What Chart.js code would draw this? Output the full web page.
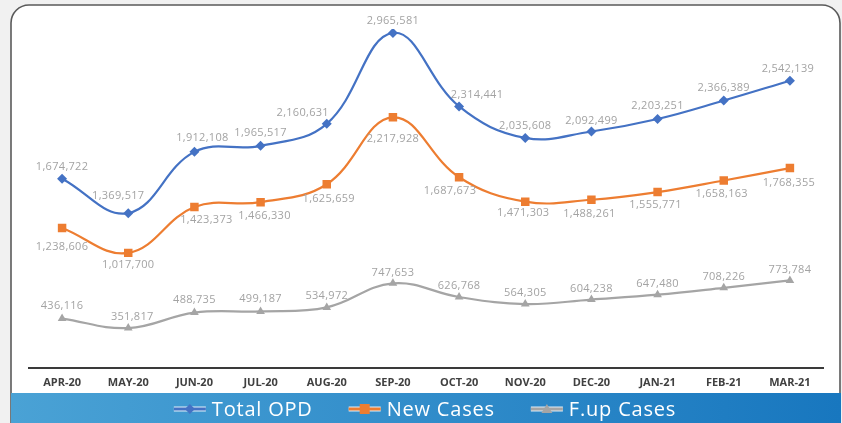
<!DOCTYPE html>
<html>
<head>
<meta charset="utf-8">
<script src="https://cdn.jsdelivr.net/npm/chart.js@4/dist/chart.umd.min.js"></script>
<style>
  html, body { margin: 0; padding: 0; background: #f1f1f1; }
  #wrap { width: 842px; height: 423px; }
</style>
</head>
<body>
<div id="wrap"><canvas id="c" width="842" height="423"></canvas></div>
<script>
const categories = ['APR-20', 'MAY-20', 'JUN-20', 'JUL-20', 'AUG-20', 'SEP-20', 'OCT-20', 'NOV-20', 'DEC-20', 'JAN-21', 'FEB-21', 'MAR-21'];
const totalOPD = [1674722, 1369517, 1912108, 1965517, 2160631, 2965581, 2314441, 2035608, 2092499, 2203251, 2366389, 2542139];
const newCases = [1238606, 1017700, 1423373, 1466330, 1625659, 2217928, 1687673, 1471303, 1488261, 1555771, 1658163, 1768355];
const fupCases = [436116, 351817, 488735, 499187, 534972, 747653, 626768, 564305, 604238, 647480, 708226, 773784];
const seriesNames = ['Total OPD', 'New Cases', 'F.up Cases'];

const COLORS = ['#4472C4', '#ED7D31', '#A5A5A5'];
// value-label placement nudges (pixels, relative to each marker), style only
const LABEL_NUDGE = [
  [[0,-12],[-10,-17],[8,-14],[0,-13],[-24,-11],[0,-12],[18,-12],[0,-12],[0,-11],[0,-13],[0,-13],[-2,-12]],
  [[0,19],[0,12],[12,13],[4,14],[2,15],[0,22],[-9,14],[-2,11],[-2,14],[-2,13],[-2,13],[-1,15]],
  [[0,-13],[4,-11],[0,-13],[0,-13],[0,-12],[0,-11],[0,-11],[0,-11],[0,-11],[0,-11],[0,-11],[0,-11]]
];

const bgPlugin = {
  id: 'bg',
  beforeDraw(chart) {
    const ctx = chart.ctx;
    ctx.save();
    ctx.fillStyle = '#f1f1f1';
    ctx.fillRect(0, 0, 842, 423);
    const x0 = 11, y0 = 5, x1 = 840, y1 = 440, r = 18;
    ctx.beginPath();
    ctx.moveTo(x0 + r, y0);
    ctx.lineTo(x1 - r, y0);
    ctx.arcTo(x1, y0, x1, y0 + r, r);
    ctx.lineTo(x1, y1);
    ctx.lineTo(x0, y1);
    ctx.lineTo(x0, y0 + r);
    ctx.arcTo(x0, y0, x0 + r, y0, r);
    ctx.closePath();
    ctx.fillStyle = '#ffffff';
    ctx.fill();
    ctx.lineWidth = 1.6;
    ctx.strokeStyle = '#5a5a5a';
    ctx.stroke();
    const g = ctx.createLinearGradient(11, 0, 841, 0);
    g.addColorStop(0, '#4aa2d5');
    g.addColorStop(1, '#1877bf');
    ctx.fillStyle = g;
    ctx.fillRect(11, 393, 830, 30);
    ctx.restore();
  }
};

const labelPlugin = {
  id: 'valueLabels',
  afterDatasetsDraw(chart) {
    const ctx = chart.ctx;
    ctx.save();
    ctx.font = '400 11px "Open Sans"';
    ctx.letterSpacing = '0.3px';
    ctx.fillStyle = '#a3a3a3';
    ctx.textAlign = 'center';
    ctx.textBaseline = 'middle';
    chart.data.datasets.forEach((ds, di) => {
      const meta = chart.getDatasetMeta(di);
      meta.data.forEach((pt, i) => {
        const txt = ds.data[i].toLocaleString('en-US');
        const n = LABEL_NUDGE[di][i];
        ctx.fillText(txt, pt.x + n[0], pt.y + n[1]);
      });
    });
    ctx.restore();
  }
};

function drawMarker(ctx, style, x, y, color) {
  ctx.fillStyle = color;
  ctx.beginPath();
  if (style === 'rectRot') {
    ctx.moveTo(x, y - 5); ctx.lineTo(x + 5, y); ctx.lineTo(x, y + 5); ctx.lineTo(x - 5, y);
  } else if (style === 'rect') {
    ctx.rect(x - 5, y - 5, 10, 10);
  } else {
    ctx.moveTo(x, y - 5); ctx.lineTo(x + 5.5, y + 4); ctx.lineTo(x - 5.5, y + 4);
  }
  ctx.closePath();
  ctx.fill();
}

const legendPlugin = {
  id: 'customLegend',
  afterDraw(chart) {
    const ctx = chart.ctx;
    ctx.save();
    ctx.font = '500 20px "Open Sans"';
    ctx.letterSpacing = '0.8px';
    const iconW = 32, gapIcon = 6, gapItem = 36;
    const styles = ['rectRot', 'rect', 'triangle'];
    const widths = seriesNames.map(n => ctx.measureText(n).width);
    const total = widths.reduce((a, b) => a + b, 0) + seriesNames.length * (iconW + gapIcon) + gapItem * (seriesNames.length - 1);
    let x = 425 - total / 2;
    const y = 409;
    seriesNames.forEach((name, i) => {
      ctx.lineCap = 'butt';
      ctx.strokeStyle = 'rgba(255,255,255,0.85)';
      ctx.lineWidth = 5;
      ctx.beginPath(); ctx.moveTo(x, y); ctx.lineTo(x + iconW, y); ctx.stroke();
      ctx.strokeStyle = COLORS[i];
      ctx.lineWidth = 3;
      ctx.beginPath(); ctx.moveTo(x, y); ctx.lineTo(x + iconW, y); ctx.stroke();
      drawMarker(ctx, styles[i], x + iconW / 2, y, COLORS[i]);
      x += iconW + gapIcon;
      ctx.fillStyle = '#ffffff';
      ctx.textBaseline = 'middle';
      ctx.textAlign = 'left';
      ctx.fillText(name, x, y + 1);
      x += widths[i] + gapItem;
    });
    ctx.restore();
  }
};

new Chart(document.getElementById('c'), {
  type: 'line',
  data: {
    labels: categories,
    datasets: [
      { label: seriesNames[0], data: totalOPD, borderColor: COLORS[0], backgroundColor: COLORS[0], borderWidth: 2.2, pointStyle: 'rectRot', pointRadius: 5, pointBorderWidth: 0, tension: 0.4 },
      { label: seriesNames[1], data: newCases, borderColor: COLORS[1], backgroundColor: COLORS[1], borderWidth: 2.2, pointStyle: 'rect', pointRadius: 6, pointBorderWidth: 0, tension: 0.4 },
      { label: seriesNames[2], data: fupCases, borderColor: COLORS[2], backgroundColor: COLORS[2], borderWidth: 2.2, pointStyle: 'triangle', pointRadius: 5, pointBorderWidth: 0, tension: 0.4 }
    ]
  },
  options: {
    responsive: false,
    animation: false,
    devicePixelRatio: 1,
    layout: { padding: { left: 29, right: 19, top: 29, bottom: 26 } },
    scales: {
      x: {
        offset: true,
        grid: { display: false, drawTicks: false },
        border: { display: true, color: '#3a3a3a', width: 2 },
        ticks: { color: '#404040', padding: 8, font: { family: '"Open Sans"', size: 11, weight: 'bold' }, maxRotation: 0, autoSkip: false }
      },
      y: { display: false, min: 0, max: 3000000 }
    },
    plugins: { legend: { display: false }, tooltip: { enabled: false } }
  },
  plugins: [bgPlugin, labelPlugin, legendPlugin]
});
</script>
</body>
</html>
